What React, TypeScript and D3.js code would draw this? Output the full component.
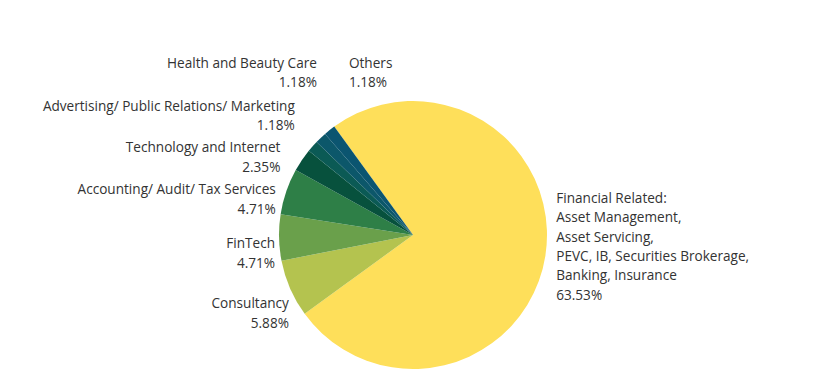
import React from 'react';
import * as d3 from 'd3';

// sectors, clockwise from the top-left edge of the big slice
const sectors = [
  ['Financial Related:', 'Asset Management,', 'Asset Servicing,', 'PEVC, IB, Securities Brokerage,', 'Banking, Insurance'],
  ['Consultancy'],
  ['FinTech'],
  ['Accounting/ Audit/ Tax Services'],
  ['Technology and Internet'],
  ['Advertising/ Public Relations/ Marketing'],
  ['Health and Beauty Care'],
  ['Others'],
];
const shares = [63.53, 5.88, 4.71, 4.71, 2.35, 1.18, 1.18, 1.18];
const colors = ['#fedf5a', '#b4c34f', '#6aa04b', '#2e7f47', '#07513d', '#0b5a55', '#0c576a', '#0b5570'];

// manual nudges of the labels away from the plain outside anchor (like Excel's dragged labels)
const labelNudge: [number, number][] = [
  [2, -6], [7, 26], [5, 20.5], [-2, 15.6], [-14, 7], [-11, -19.7], [2.4, -53.8], [25, -45.6],
];

const W = 837;
const H = 388;
const cx = 413;
const cy = 235;
const radius = 134;
const lineH = 19.4;

const App: React.FC = () => {
  const toRad = (deg: number) => (deg * Math.PI) / 180;
  const start = toRad(-36);

  const pie = d3.pie<number>().sort(null).value(d => d).startAngle(start).endAngle(start + 2 * Math.PI);
  const arcs = pie(shares);
  const arc = d3.arc<d3.PieArcDatum<number>>().innerRadius(0).outerRadius(radius);
  const labelR = radius + 9;

  return (
    <svg width={W} height={H} style={{ position: 'absolute', left: 0, top: 0, background: '#fff' }}>
      <g transform={`translate(${cx},${cy})`}>
        {arcs.map((a, i) => (
          <path key={i} d={arc(a) || ''} fill={colors[i]} />
        ))}
      </g>
      <g fontFamily="'Open Sans', 'Noto Sans', sans-serif" fontSize={13.6} fill="#333">
        {arcs.map((a, i) => {
          const mid = (a.startAngle + a.endAngle) / 2;
          const x = cx + labelR * Math.sin(mid) + labelNudge[i][0];
          const yMid = cy - labelR * Math.cos(mid) + labelNudge[i][1];
          const lines = [...sectors[i], `${shares[i].toFixed(2)}%`];
          const right = Math.sin(mid) > 0 || i === sectors.length - 1;
          const y0 = yMid - ((lines.length - 1) * lineH) / 2;
          return (
            <text key={i} textAnchor={right ? 'start' : 'end'}>
              {lines.map((l, j) => (
                <tspan key={j} x={x} y={y0 + j * lineH}>{l}</tspan>
              ))}
            </text>
          );
        })}
      </g>
    </svg>
  );
};

export default App;
